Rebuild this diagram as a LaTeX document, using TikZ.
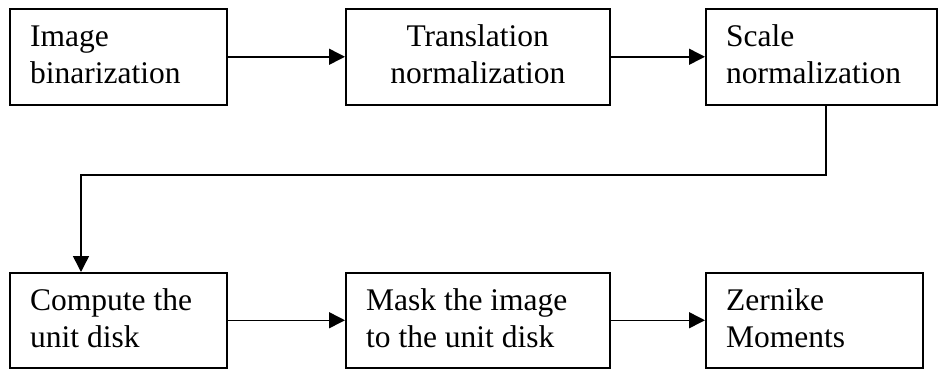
\documentclass[tikz,border=0pt]{standalone}
\usepackage{fontspec}
\setmainfont{Liberation Serif}
\usetikzlibrary{arrows.meta,calc}

\tikzset{
  stage/.style={draw=black, line width=1.5pt, rectangle, inner sep=0pt,
    anchor=north west, minimum height=96pt},
  lbl/.style={inner sep=0pt, font=\fontsize{31.5}{37}\selectfont},
  lleft/.style={lbl, anchor=north west, align=left},
  lmid/.style={lbl, anchor=north, align=center},
  flow/.style={line width=1.5pt, -{Triangle[length=16pt,width=16pt]}},
}
\newcommand{\toprule}{\rule{0pt}{22pt}}

\begin{document}
\begin{tikzpicture}[x=1pt, y=-1pt]
  \useasboundingbox (0,0) rectangle (938,368);

  % processing stages, upper row
  \node[stage, minimum width=217pt] (b1) at (9,8) {};
  \node[stage, minimum width=264pt] (b2) at (345,8) {};
  \node[stage, minimum width=231pt] (b3) at (705,8) {};
  % processing stages, lower row
  \node[stage, minimum width=217pt, minimum height=95pt] (b4) at (9,272) {};
  \node[stage, minimum width=264pt, minimum height=95pt] (b5) at (345,272) {};
  \node[stage, minimum width=217pt, minimum height=95pt] (b6) at (705,272) {};

  % stage labels
  \node[lleft] (t1) at ($(b1.north west)+(21,16)$) {\toprule Image\\binarization};
  \node[lmid]  (t2) at ($(b2.north)+(0,16)$) {\toprule Translation\\normalization};
  \node[lleft] (t3) at ($(b3.north west)+(21,16)$) {\toprule Scale\\normalization};
  \node[lleft] (t4) at ($(b4.north west)+(21,16)$) {\toprule Compute the\\unit disk};
  \node[lleft] (t5) at ($(b5.north west)+(21,16)$) {\toprule Mask the image\\to the unit disk};
  \node[lleft] (t6) at ($(b6.north west)+(21,16)$) {\toprule Zernike\\Moments};

  % connectors
  \draw[flow] (b1.east) -- (b2.west);
  \draw[flow] (b2.east) -- (b3.west);
  \coordinate (k1) at (826,175);
  \coordinate (k2) at (81,175);
  \draw[flow] (b3.south -| k1) -- (k1) -- (k2) -- (k2 |- b4.north);
  \draw[flow] (b4.east) -- (b5.west);
  \draw[flow] (b5.east) -- (b6.west);
\end{tikzpicture}
\end{document}
